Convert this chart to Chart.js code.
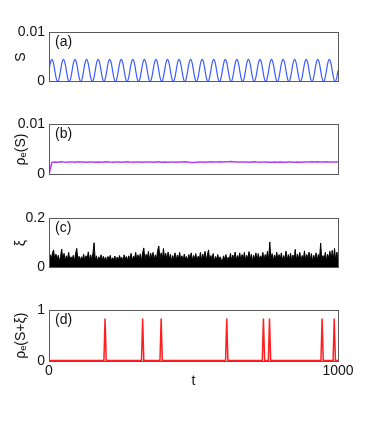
<!DOCTYPE html>
<html>
<head>
<meta charset="utf-8">
<script src="https://cdn.jsdelivr.net/npm/chart.js@4"></script>
<style>
  body { margin: 0; background: #fff; }
  #wrap { position: relative; width: 374px; height: 425px; }
  canvas { position: absolute; left: 0; }
</style>
</head>
<body>
<div id="wrap">
  <canvas id="pa" width="374" height="74" style="top:20px"></canvas>
  <canvas id="pb" width="374" height="75" style="top:112px"></canvas>
  <canvas id="pc" width="374" height="74" style="top:206px"></canvas>
  <canvas id="pd" width="374" height="103" style="top:298px"></canvas>
</div>
<script>
// panel (a): S(t), sampled every 5 time units
const stepA = 5;
const sA = [
  0.00225,0.00384,0.0045,0.00384,0.00225,0.00066,0,0.00066,
  0.00225,0.00384,0.0045,0.00384,0.00225,0.00066,0,0.00066,
  0.00225,0.00384,0.0045,0.00384,0.00225,0.00066,0,0.00066,
  0.00225,0.00384,0.0045,0.00384,0.00225,0.00066,0,0.00066,
  0.00225,0.00384,0.0045,0.00384,0.00225,0.00066,0,0.00066,
  0.00225,0.00384,0.0045,0.00384,0.00225,0.00066,0,0.00066,
  0.00225,0.00384,0.0045,0.00384,0.00225,0.00066,0,0.00066,
  0.00225,0.00384,0.0045,0.00384,0.00225,0.00066,0,0.00066,
  0.00225,0.00384,0.0045,0.00384,0.00225,0.00066,0,0.00066,
  0.00225,0.00384,0.0045,0.00384,0.00225,0.00066,0,0.00066,
  0.00225,0.00384,0.0045,0.00384,0.00225,0.00066,0,0.00066,
  0.00225,0.00384,0.0045,0.00384,0.00225,0.00066,0,0.00066,
  0.00225,0.00384,0.0045,0.00384,0.00225,0.00066,0,0.00066,
  0.00225,0.00384,0.0045,0.00384,0.00225,0.00066,0,0.00066,
  0.00225,0.00384,0.0045,0.00384,0.00225,0.00066,0,0.00066,
  0.00225,0.00384,0.0045,0.00384,0.00225,0.00066,0,0.00066,
  0.00225,0.00384,0.0045,0.00384,0.00225,0.00066,0,0.00066,
  0.00225,0.00384,0.0045,0.00384,0.00225,0.00066,0,0.00066,
  0.00225,0.00384,0.0045,0.00384,0.00225,0.00066,0,0.00066,
  0.00225,0.00384,0.0045,0.00384,0.00225,0.00066,0,0.00066,
  0.00225,0.00384,0.0045,0.00384,0.00225,0.00066,0,0.00066,
  0.00225,0.00384,0.0045,0.00384,0.00225,0.00066,0,0.00066,
  0.00225,0.00384,0.0045,0.00384,0.00225,0.00066,0,0.00066,
  0.00225,0.00384,0.0045,0.00384,0.00225,0.00066,0,0.00066,
  0.00225,0.00384,0.0045,0.00384,0.00225,0.00066,0,0.00066,
  0.00225
];

// panel (b): rho_e(S), every 10 time units
const stepB = 10;
const sB = [
  0,0.00244,0.00251,0.00248,0.00254,0.00249,0.00246,0.00252,0.00250,0.00247,
  0.00255,0.00249,0.00251,0.00246,0.00253,0.00250,0.00248,0.00252,0.00247,0.00251,
  0.00254,0.00249,0.00246,0.00250,0.00253,0.00248,0.00251,0.00255,0.00249,0.00246,
  0.00252,0.00250,0.00247,0.00253,0.00249,0.00251,0.00246,0.00250,0.00254,0.00248,
  0.00251,0.00247,0.00253,0.00250,0.00246,0.00252,0.00249,0.00255,0.00250,0.00243,
  0.00240,0.00246,0.00250,0.00253,0.00248,0.00251,0.00255,0.00249,0.00252,0.00256,
  0.00253,0.00258,0.00254,0.00260,0.00255,0.00251,0.00249,0.00253,0.00250,0.00247,
  0.00251,0.00254,0.00249,0.00246,0.00250,0.00253,0.00248,0.00245,0.00250,0.00247,
  0.00251,0.00248,0.00244,0.00249,0.00252,0.00247,0.00250,0.00246,0.00253,0.00249,
  0.00251,0.00255,0.00250,0.00254,0.00249,0.00252,0.00256,0.00250,0.00253,0.00249,
  0.00251
];

// panel (c): noise xi, every 4 time units
const stepC = 4;
const sC = [
  0.03,0.052,0.034,0.06,0.072,0.028,0.055,0.032,0.05,0.026,
  0.045,0.075,0.03,0.058,0.027,0.048,0.034,0.062,0.029,0.044,
  0.033,0.05,0.026,0.056,0.078,0.03,0.046,0.028,0.044,0.035,
  0.054,0.027,0.048,0.036,0.064,0.03,0.052,0.033,0.058,0.101,
  0.03,0.048,0.026,0.044,0.034,0.052,0.028,0.046,0.031,0.042,
  0.027,0.045,0.035,0.05,0.028,0.04,0.032,0.047,0.025,0.043,
  0.03,0.049,0.034,0.042,0.027,0.052,0.036,0.045,0.029,0.048,
  0.033,0.058,0.028,0.046,0.037,0.062,0.03,0.052,0.034,0.056,
  0.028,0.06,0.08,0.032,0.054,0.036,0.066,0.03,0.058,0.038,
  0.062,0.031,0.052,0.035,0.07,0.088,0.033,0.06,0.029,0.078,
  0.037,0.058,0.03,0.063,0.034,0.054,0.027,0.049,0.032,0.06,
  0.029,0.051,0.036,0.062,0.031,0.048,0.026,0.055,0.035,0.045,
  0.028,0.053,0.033,0.06,0.03,0.049,0.037,0.057,0.027,0.046,
  0.032,0.062,0.029,0.055,0.036,0.066,0.031,0.051,0.072,0.028,
  0.049,0.033,0.057,0.026,0.045,0.034,0.053,0.03,0.044,0.033,
  0.027,0.048,0.032,0.053,0.029,0.042,0.034,0.058,0.028,0.051,
  0.033,0.063,0.03,0.049,0.037,0.06,0.027,0.053,0.033,0.062,
  0.029,0.05,0.036,0.065,0.031,0.055,0.026,0.051,0.034,0.06,
  0.028,0.057,0.033,0.048,0.038,0.062,0.03,0.053,0.035,0.067,
  0.029,0.104,0.033,0.057,0.027,0.051,0.036,0.063,0.031,0.053,
  0.034,0.06,0.028,0.049,0.033,0.067,0.029,0.053,0.036,0.058,
  0.027,0.051,0.032,0.074,0.03,0.055,0.035,0.062,0.028,0.049,
  0.034,0.068,0.029,0.053,0.037,0.063,0.031,0.057,0.026,0.05,
  0.033,0.06,0.03,0.053,0.035,0.1,0.028,0.049,0.034,0.062,
  0.029,0.055,0.037,0.067,0.031,0.07,0.033,0.078,0.028,0.063,
  0.036
];

// panel (d): rho_e(S+xi), spikes
const tD = [0,190,194,198,320,324,328,384,388,392,611,615,619,738,742,746,759,763,767,941,945,949,983,987,991,1000];
const sD = [0.008,0.008,0.84,0.008,0.008,0.84,0.008,0.008,0.84,0.008,0.008,0.84,0.008,0.008,0.84,0.008,0.008,0.84,0.008,0.008,0.84,0.008,0.008,0.84,0.008,0.008];

const xTicks = [0, 1000];
const xTickLabels = ['0', '1000'];
const yMaxA = 0.01, yMaxB = 0.01, yMaxC = 0.2, yMaxD = 1;
const yLabelA = ['0', '0.01'];
const yLabelB = ['0', '0.01'];
const yLabelC = ['0', '0.2'];
const yLabelD = ['0', '1'];

const FONT = 'Liberation Sans, Arial, Helvetica, sans-serif';

function pts(step, vals) {
  return vals.map((v, i) => ({ x: i * step, y: v }));
}

const framePlugin = {
  id: 'frame',
  afterDraw(chart, args, opts) {
    const a = chart.chartArea;
    const ctx = chart.ctx;
    ctx.save();
    ctx.strokeStyle = '#5a5a5a';
    ctx.lineWidth = 1;
    ctx.strokeRect(Math.round(a.left) + 0.5, Math.round(a.top) + 0.5,
      Math.round(a.right - a.left), Math.round(a.bottom - a.top));
    ctx.fillStyle = '#111';
    ctx.font = '14px ' + FONT;
    ctx.textBaseline = 'middle';
    ctx.fillText(opts.letter, a.left + 6, a.top + 10);
    ctx.restore();
  }
};

function makePanel(id, data, color, width, tension, fill, yMax, yLabels, yTitle, letter, bottom) {
  const xScale = {
    type: 'linear', min: 0, max: 1000,
    display: bottom,
    grid: { display: false, drawTicks: false },
    border: { display: false },
    afterBuildTicks: s => { s.ticks = xTicks.map(v => ({ value: v })); },
    ticks: {
      padding: 2, maxRotation: 0, color: '#111', font: { size: 14, family: FONT },
      callback: (v, i) => xTickLabels[i]
    },
    title: { display: bottom, text: 't', color: '#111', padding: { top: 0, bottom: 5 }, font: { size: 14, family: FONT } }
  };
  if (bottom) xScale.afterFit = s => { s.height = 34; };
  new Chart(document.getElementById(id), {
    type: 'line',
    data: {
      datasets: [{
        data: data,
        borderColor: color,
        backgroundColor: color,
        borderWidth: width,
        pointRadius: 0,
        tension: tension,
        fill: fill
      }]
    },
    options: {
      responsive: false,
      animation: false,
      devicePixelRatio: 1,
      layout: { padding: { left: 0, right: 36, top: 12, bottom: bottom ? 6 : 12 } },
      plugins: { legend: { display: false }, tooltip: { enabled: false }, frame: { letter: letter } },
      scales: {
        x: xScale,
        y: {
          min: 0, max: yMax,
          grid: { display: false, drawTicks: false },
          border: { display: false },
          afterBuildTicks: s => { s.ticks = [{ value: 0 }, { value: yMax }]; },
          afterFit: s => { s.width = 49; },
          ticks: {
            padding: 4, color: '#111', font: { size: 14, family: FONT },
            callback: (v, i) => yLabels[i]
          },
          title: { display: true, text: yTitle, color: '#111', padding: { top: 13, bottom: 0 }, font: { size: 14, family: FONT } }
        }
      }
    },
    plugins: [framePlugin]
  });
}

makePanel('pa', pts(stepA, sA), '#3d5cff', 1.2, 0.4, false, yMaxA, yLabelA, 'S', '(a)', false);
makePanel('pb', pts(stepB, sB), '#b93cf2', 1.5, 0, false, yMaxB, yLabelB, 'ρₑ(S)', '(b)', false);
makePanel('pc', pts(stepC, sC), '#000000', 1, 0, 'origin', yMaxC, yLabelC, 'ξ', '(c)', false);
makePanel('pd', tD.map((t, i) => ({ x: t, y: sD[i] })), '#ff1f1f', 1.5, 0, false, yMaxD, yLabelD, 'ρₑ(S+ξ)', '(d)', true);
</script>
</body>
</html>
